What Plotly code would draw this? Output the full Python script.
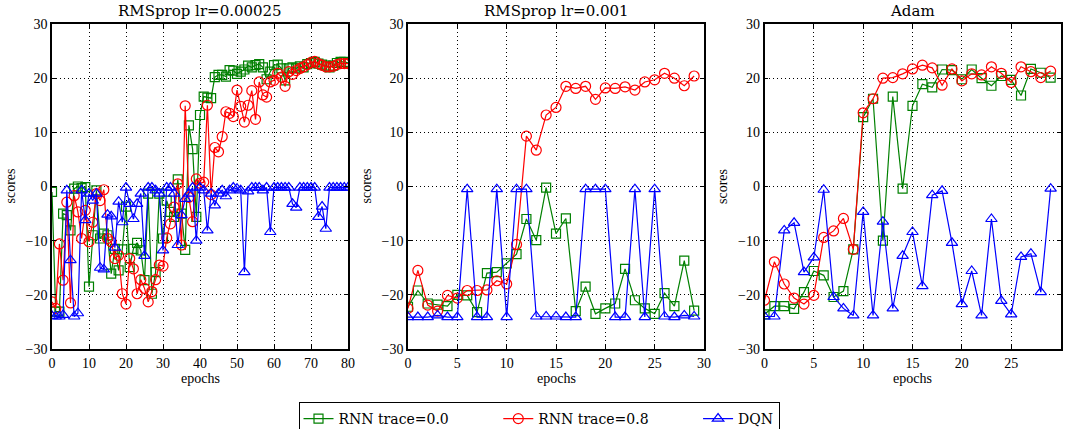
import plotly.graph_objects as go

# ---------------- data ----------------
epochs_a = list(range(81))
epochs_b = list(range(30))

# Panel 1: RMSprop lr=0.00025
rms1_rnn00 = [-1.0, -23.1, -23.1, -5.0, -5.3, -8.1, -0.4, 0.0, -0.3, -0.1,
              -18.5, -9.0, -0.7, -9.6, -8.7, -9.0, -16.1, -11.5, -15.5, -11.6,
              -3.7, -14.9, -11.5, -10.4, -11.8, -17.3, -1.3, -19.8, -15.8, -1.3,
              -9.6, -2.6, -4.7, -5.6, 1.3, -5.0, -11.7, 11.3, 6.9, -5.6,
              13.2, 16.6, 16.4, 16.3, 20.2, 20.6, 20.6, 20.3, 21.5, 21.4,
              20.8, 21.2, 21.6, 22.3, 22.0, 22.4, 22.6, 22.0, 19.8, 21.2,
              22.4, 22.5, 21.8, 19.6, 21.8, 22.0, 21.8, 22.2, 22.0, 22.6,
              22.8, 23.0, 22.7, 22.5, 22.3, 22.0, 22.3, 22.8, 23.0, 23.0, 22.8]
rms1_rnn08 = [-21.3, -22.5, -10.6, -17.3, -2.9, -21.5, -1.7, -4.7, -9.6, -4.4,
              -10.2, -6.6, -1.3, -2.6, -0.6, -9.6, -10.2, -13.3, -12.7, -19.8,
              -21.7, -13.3, -15.2, -19.8, -17.2, -18.8, -21.3, -19.4, -17.2, -14.5,
              -14.7, -9.5, -6.9, -3.8, 0.5, -10.8, 14.9, -2.0, -6.5, 1.4,
              0.6, 0.8, 15.0, -1.5, 7.2, 6.4, 9.2, 13.8, 13.5, 12.9,
              17.8, 14.8, 11.9, 15.0, 17.7, 12.4, 19.3, 16.9, 16.5, 19.3,
              19.6, 20.9, 20.2, 18.5, 21.2, 20.7, 21.4, 21.8, 22.1, 22.5,
              22.9, 23.1, 22.7, 22.4, 22.1, 22.1, 22.2, 22.5, 22.7, 22.7, 22.7]
rms1_dqn = [-23.9, -24.0, -24.0, -23.7, -0.7, -13.6, -24.0, -23.4, -0.7, -6.2,
            -1.3, -2.6, -1.3, -15.0, -15.3, -5.2, -5.5, -11.3, -2.8, -6.6,
            -0.2, -3.2, -6.0, -3.2, -1.3, -12.8, -0.2, -0.2, -0.7, -1.3,
            -11.8, -0.2, -0.2, -1.3, -10.8, -5.3, -2.3, -1.3, -0.2, -10.0,
            -0.2, -0.7, -8.1, -1.3, -3.5, -1.3, -0.7, -1.8, -0.7, -0.2,
            -0.4, -0.7, -15.8, -0.9, -0.2, -0.2, -0.2, -0.7, -0.2, -8.4,
            -0.2, -0.2, -0.2, -0.2, -0.2, -3.2, -3.9, -0.2, -0.2, -0.2,
            -0.2, -0.2, -5.6, -3.7, -7.8, -0.2, -0.2, -0.2, -0.2, -0.2, -0.2]

# Panel 2: RMSprop lr=0.001
rms2_rnn00 = [-22.2, -19.2, -21.6, -21.8, -22.1, -20.0, -20.1, -23.2, -16.0, -15.8,
              -14.2, -12.5, -6.0, -9.9, -0.2, -8.7, -5.9, -23.0, -18.5, -23.5,
              -22.5, -21.6, -15.2, -21.0, -22.5, -23.5, -19.7, -22.1, -13.7, -22.9]
rms2_rnn08 = [-22.5, -15.5, -21.9, -23.0, -20.1, -20.6, -19.2, -19.2, -19.1, -17.4,
              -18.0, -10.7, 9.3, 6.7, 13.2, 14.6, 18.5, 18.1, 18.5, 16.1,
              18.2, 18.1, 18.4, 17.8, 19.3, 19.7, 20.9, 20.0, 18.6, 20.4]
rms2_dqn = [-24.1, -24.1, -24.1, -23.8, -24.1, -24.1, -0.5, -24.1, -24.1, -0.5,
            -24.1, -0.5, -0.5, -24.0, -24.0, -24.0, -24.1, -24.1, -0.5, -0.5,
            -0.5, -24.1, -24.1, -0.5, -24.1, -0.5, -24.0, -24.1, -23.8, -24.0]

# Panel 3: Adam
adam_rnn00 = [-23.6, -22.1, -22.1, -22.6, -19.5, -15.6, -16.4, -20.4, -19.3, -11.6,
              12.8, 16.2, -10.0, 16.6, -0.4, 14.9, 18.9, 18.3, 21.6, 21.5,
              19.8, 21.6, 20.0, 18.6, 20.4, 19.7, 16.8, 21.7, 21.0, 20.1]
adam_rnn08 = [-21.0, -13.9, -18.0, -20.6, -21.7, -20.1, -9.4, -8.2, -5.9, -11.6,
              13.6, 16.2, 20.0, 20.1, 20.8, 21.7, 22.4, 21.9, 18.7, 21.7,
              19.5, 20.8, 20.6, 22.1, 20.9, 19.2, 22.1, 21.2, 20.1, 21.3]
adam_dqn = [-24.0, -24.0, -8.1, -6.7, -15.8, -13.1, -0.6, -20.4, -22.5, -23.8,
            -4.7, -23.8, -6.5, -22.5, -12.8, -8.4, -18.4, -1.6, -0.8, -10.4,
            -21.7, -15.6, -23.8, -6.0, -21.1, -23.6, -13.0, -12.4, -19.5, -0.4]

titles = ["RMSprop lr=0.00025", "RMSprop lr=0.001", "Adam"]
series_names = ["RNN trace=0.0", "RNN trace=0.8", "DQN"]
y_ticks = [-30, -20, -10, 0, 10, 20, 30]
x_ticks_a = [0, 10, 20, 30, 40, 50, 60, 70, 80]
x_ticks_b = [0, 5, 10, 15, 20, 25, 30]

# ---------------- styling ----------------
FONT_TITLE = "DejaVu Serif"
FONT_TICK = "Liberation Serif"
FONT_LEG = "DejaVu Serif"
FONT_LAB = "Liberation Serif"
colors = ["#008000", "#ff0000", "#0000ff"]
symbols = ["square-open", "circle-open", "triangle-up-open"]
msizes = [9, 10, 10]
NB = "\u00a0"
legend_pad = [NB * 10, NB * 10, ""]

panels = [
    (epochs_a, [rms1_rnn00, rms1_rnn08, rms1_dqn], x_ticks_a, [0, 80]),
    (epochs_b, [rms2_rnn00, rms2_rnn08, rms2_dqn], x_ticks_b, [0, 30]),
    (epochs_b, [adam_rnn00, adam_rnn08, adam_dqn], x_ticks_b, [0, 30]),
]

W, H = 1066, 429
x_domains = [(52 / W, 348 / W), (408 / W, 704 / W), (764.5 / W, 1060.5 / W)]
y_domain = (1 - 349 / H, 1 - 24 / H)

fig = go.Figure()
layout = dict(
    width=W, height=H,
    margin=dict(l=0, r=0, t=0, b=0, autoexpand=False),
    paper_bgcolor="white", plot_bgcolor="white",
    font=dict(family=FONT_LAB, size=13, color="black"),
    showlegend=True,
    legend=dict(orientation="h", x=539 / W, xanchor="center", y=1 - 402 / H, yanchor="top",
                bordercolor="black", borderwidth=1, bgcolor="white",
                font=dict(family=FONT_LEG, size=14), itemwidth=30),
)
annotations = []
for i, (xs, ys_list, xt, xr) in enumerate(panels):
    sfx = "" if i == 0 else str(i + 1)
    for j, ys in enumerate(ys_list):
        fig.add_trace(go.Scatter(
            x=xs, y=ys, mode="lines+markers", name=series_names[j] + legend_pad[j],
            legendgroup=series_names[j], showlegend=(i == 0),
            line=dict(color=colors[j], width=1.2),
            marker=dict(symbol=symbols[j], size=msizes[j], color=colors[j],
                        line=dict(width=1.2, color=colors[j])),
            xaxis="x" + sfx, yaxis="y" + sfx, cliponaxis=True,
        ))
    axcommon = dict(showline=True, linecolor="black", linewidth=1.5, mirror="allticks",
                    ticks="inside", ticklen=4, tickcolor="black", tickwidth=1,
                    showgrid=True, gridcolor="black", gridwidth=1, griddash="1px,3px",
                    zeroline=False, automargin=False,
                    tickfont=dict(family=FONT_TICK, size=14, color="black"))
    layout["xaxis" + sfx] = dict(domain=list(x_domains[i]), range=xr, tickvals=xt,
                                 anchor="y" + sfx, **axcommon)
    layout["yaxis" + sfx] = dict(domain=list(y_domain), range=[-30, 30], tickvals=y_ticks,
                                 anchor="x" + sfx, **axcommon)
    cx = (x_domains[i][0] + x_domains[i][1]) / 2
    annotations.append(dict(text=titles[i], x=cx, y=1 - 22 / H, xref="paper", yref="paper",
                            xanchor="center", yanchor="bottom", showarrow=False,
                            font=dict(family=FONT_TITLE, size=15)))
    annotations.append(dict(text="epochs", x=cx, y=1 - 378 / H, xref="paper", yref="paper",
                            xanchor="center", yanchor="middle", showarrow=False,
                            font=dict(family=FONT_LAB, size=14)))
    annotations.append(dict(text="scores", x=(x_domains[i][0] * W - 42) / W, y=(y_domain[0] + y_domain[1]) / 2,
                            xref="paper", yref="paper", xanchor="center", yanchor="middle",
                            textangle=-90, showarrow=False, font=dict(family=FONT_LAB, size=14)))
layout["annotations"] = annotations
fig.update_layout(**layout)
fig.write_html("out.html", config={"displayModeBar": False})

with open("out.html", encoding="utf-8") as f:
    html = f.read()
html = html.replace("<head>", "<head><style>html,body{margin:0;padding:0;overflow:hidden;}</style>", 1)
with open("out.html", "w", encoding="utf-8") as f:
    f.write(html)
